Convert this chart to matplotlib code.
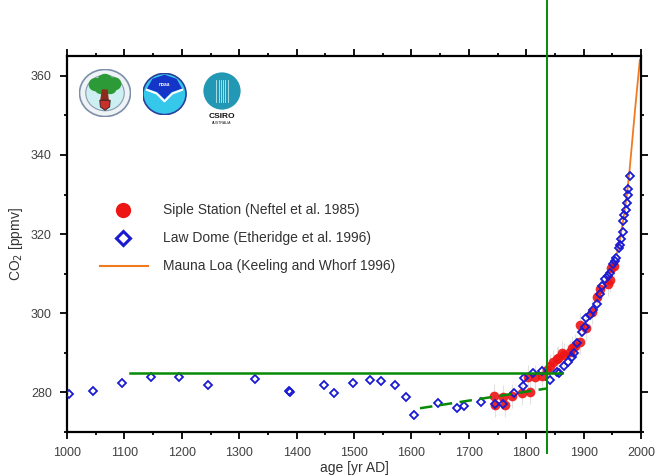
import matplotlib
matplotlib.use("Agg")
import matplotlib.pyplot as plt
from matplotlib.ticker import MultipleLocator
from matplotlib.patches import Circle, Polygon

plt.rcParams['font.family'] = ['Liberation Sans', 'DejaVu Sans']

# Law Dome ice core (blue diamonds)
law_years = [1004, 1045, 1095, 1146, 1195, 1246, 1327, 1387, 1388, 1447, 1465,
             1499, 1528, 1547, 1571, 1590, 1605, 1647, 1679, 1692, 1721, 1746,
             1760, 1778, 1795, 1797, 1812, 1827, 1841, 1853, 1858, 1866, 1873,
             1879, 1884, 1889, 1897, 1902, 1905, 1911, 1917, 1923, 1929, 1932,
             1937, 1942, 1946, 1952, 1955, 1957, 1962, 1963, 1966, 1968, 1969,
             1971, 1973, 1975, 1977, 1978, 1980]
law_co2 = [279.5, 280.3, 282.4, 283.8, 283.9, 281.8, 283.4, 280.3, 280.0, 281.8,
           279.8, 282.4, 283.2, 282.9, 282.0, 278.8, 274.4, 277.4, 276.0, 276.6,
           277.7, 277.0, 277.0, 279.8, 281.6, 283.7, 284.9, 285.3, 283.2, 285.1,
           284.8, 286.6, 287.6, 289.0, 290.0, 292.5, 295.3, 296.6, 298.7, 299.5,
           300.8, 302.4, 304.9, 307.0, 308.7, 309.5, 310.2, 312.4, 313.2, 314.0,
           316.5, 317.2, 318.7, 320.5, 323.2, 324.9, 326.0, 327.8, 330.0, 331.4,
           334.8]

# Siple Station ice core (red circles)
siple_years = [1744, 1746, 1760, 1763, 1775, 1792, 1807, 1804, 1815, 1827, 1836,
               1841, 1847, 1853, 1856, 1862, 1865, 1876, 1879, 1885, 1894, 1894,
               1905, 1914, 1923, 1929, 1943, 1946, 1947, 1953]
siple_co2 = [279.1, 276.8, 278.9, 276.8, 279.1, 279.8, 280.1, 283.9, 283.9, 284.1,
             285.7, 286.6, 287.8, 288.5, 288.7, 290.0, 289.5, 290.3, 291.2, 291.8,
             292.8, 297.0, 296.2, 300.3, 304.1, 306.2, 307.4, 308.3, 311.5, 312.0]

# Mauna Loa record (orange line)
mlo_years = [1958, 1963, 1969, 1975, 1980, 1985, 1990, 1995, 1998]
mlo_co2 = [315.0, 318.5, 323.5, 329.5, 336.0, 344.0, 352.0, 359.5, 364.0]

# green guide lines
industrial_year = 1836
preind_level = 285
preind_span = [1110, 1862]
trend_years = [1615, 1836]
trend_co2 = [276.0, 281.0]

W, H = 655, 476
fig = plt.figure(figsize=(W / 100, H / 100), dpi=100)
ax = fig.add_axes([67 / W, 44 / H, 574 / W, 376 / H])

ax.errorbar(siple_years, siple_co2, yerr=3, fmt='none', ecolor='#e2e2e2',
            elinewidth=0.8, zorder=1)
ax.plot(siple_years, siple_co2, 'o', color='#ee1515', ms=7, mec='none',
        alpha=0.9, zorder=3)
ax.plot(law_years, law_co2, 'D', mfc='none', mec='#1a1ad0', ms=4.0, mew=1.3,
        zorder=4)
ax.plot(mlo_years, mlo_co2, '-', color='#f07a20', lw=1.3, zorder=2)

green = '#078a07'
ax.plot([industrial_year, industrial_year], [264.7, 378.8], color=green, lw=1.4,
        clip_on=False, zorder=5)
ax.plot(preind_span, [preind_level, preind_level], color=green, lw=1.8, zorder=5)
ax.plot(trend_years, trend_co2, '--', color=green, lw=1.8, dashes=(5, 3), zorder=5)

ax.set_xlim(1000, 2000)
ax.set_ylim(270, 365)
ax.xaxis.set_major_locator(MultipleLocator(100))
ax.xaxis.set_minor_locator(MultipleLocator(50))
ax.yaxis.set_major_locator(MultipleLocator(20))
ax.yaxis.set_minor_locator(MultipleLocator(10))
ax.tick_params(which='both', direction='out', top=True, right=True,
               labelsize=9, labelcolor='#404040', width=1.3)
ax.tick_params(which='major', length=5, pad=6)
ax.tick_params(which='minor', length=2.5)
ax.tick_params(axis='x', which='major', pad=6)
for s in ax.spines.values():
    s.set_linewidth(1.6)

ax.set_xlabel('age [yr AD]', fontsize=10, color='#333333', labelpad=1)
ax.set_ylabel('CO$_2$ [ppmv]', fontsize=10, color='#333333', labelpad=4)

# legend drawn by hand
tc = '#333333'
ax.plot([0.0976], [0.590], 'o', color='#ee1515', ms=11, mec='none',
        transform=ax.transAxes)
ax.plot([0.0976], [0.516], 'D', mfc='none', mec='#1a1ad0', ms=7.5, mew=2.2,
        transform=ax.transAxes)
ax.plot([0.058, 0.141], [0.441, 0.441], color='#f07a20', lw=1.5,
        transform=ax.transAxes)
ax.text(0.167, 0.590, 'Siple Station (Neftel et al. 1985)', fontsize=10,
        color=tc, va='center', transform=ax.transAxes)
ax.text(0.167, 0.516, 'Law Dome (Etheridge et al. 1996)', fontsize=10,
        color=tc, va='center', transform=ax.transAxes)
ax.text(0.167, 0.441, 'Mauna Loa (Keeling and Whorf 1996)', fontsize=10,
        color=tc, va='center', transform=ax.transAxes)


def logo_axes(cx, cy, rx, ry):
    la = fig.add_axes([(cx - rx) / W, (H - cy - ry) / H, 2 * rx / W, 2 * ry / H])
    la.set_xlim(-1, 1)
    la.set_ylim(-1, 1)
    la.axis('off')
    return la


# logo 1: tree seal
la = logo_axes(105, 93, 26, 24)
la.add_patch(Circle((0, 0), 0.98, fc='#eef3f6', ec='#7d8fa8', lw=1.2))
la.add_patch(Circle((0, 0), 0.74, fc='#cdeff2', ec='#8a9bb0', lw=0.8))
for x, y, r in [(-0.35, 0.35, 0.28), (0.0, 0.5, 0.3), (0.35, 0.38, 0.28),
                (-0.15, 0.2, 0.25), (0.2, 0.2, 0.25)]:
    la.add_patch(Circle((x, y), r, fc='#2c9a36', ec='none'))
la.add_patch(Polygon([[-0.12, 0.15], [0.1, 0.15], [0.16, -0.4], [-0.2, -0.4]],
                     fc='#8c2a1c', ec='none'))
la.add_patch(Polygon([[-0.2, -0.3], [0.2, -0.3], [0.18, -0.58], [0, -0.72],
                      [-0.18, -0.58]], fc='#c8302a', ec='#222222', lw=0.6))

# logo 2: NOAA
la = logo_axes(164.5, 94, 22, 21)
la.add_patch(Circle((0, 0), 0.98, fc='#35c8ea', ec='#2a3f9a', lw=1.2))
la.add_patch(Polygon([[-0.8, 0.25], [-0.55, 0.72], [0, 0.92], [0.55, 0.72],
                      [0.8, 0.25], [0.35, 0.1], [0.0, -0.25], [-0.35, 0.1]],
                     fc='#1535c8', ec='none'))
la.plot([-0.8, -0.35, 0.0, 0.35, 0.8], [0.2, 0.02, -0.35, 0.02, 0.2],
        color='white', lw=1.5)
la.text(0, 0.45, 'noaa', color='white', fontsize=3.5, ha='center', va='center',
        fontweight='bold')

# logo 3: CSIRO
la = logo_axes(222, 91, 19, 19)
la.add_patch(Circle((0, 0), 0.98, fc='#2398b4', ec='none'))
for x in [-0.3, -0.18, -0.06, 0.06, 0.18, 0.3]:
    la.plot([x, x], [-0.6, 0.6], color='#bfe6f0', lw=0.6)
fig.text(222 / W, 1 - 117 / H, 'CSIRO', fontsize=6, fontweight='bold',
         ha='center', va='center', color='#111111')
fig.text(222 / W, 1 - 123.5 / H, 'AUSTRALIA', fontsize=2.5, ha='center',
         va='center', color='#111111')

fig.savefig('out.png', dpi=100)
